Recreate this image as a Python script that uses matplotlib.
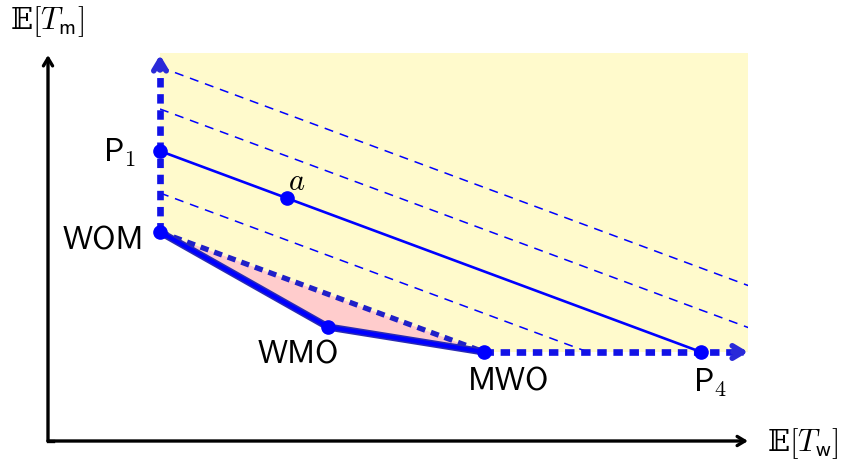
import numpy as np
import matplotlib
matplotlib.use("Agg")
import matplotlib.pyplot as plt
from matplotlib.patches import Polygon

plt.rcParams["mathtext.fontset"] = "cm"
plt.rcParams["lines.scale_dashes"] = False

# ---- data (abstract units: E[T_w] horizontally, E[T_m] vertically) ----
point_names = ["WOM", "WMO", "MWO"]
frontier_x = [1.12, 2.80, 4.36]
frontier_y = [2.09, 1.14, 0.89]

p1 = (1.12, 2.90)
p4 = (6.53, 0.89)
a_pt = (2.39, 2.43)

region_top = 3.88
region_right = 7.00
axis_top = 3.86
axis_right = 7.00

# iso-lines parallel to P1-P4, given by their value at the left edge
iso_levels = [3.74, 3.32, 2.48]

BLUE = "#0000ff"
DASH_BLUE = "#1212e6"
YELLOW = "#fffacc"
PINK = "#ffcccc"

fig = plt.figure(figsize=(8.42, 4.65), dpi=100)
ax = fig.add_axes([0, 0, 1, 1])
ax.set_xlim(-0.48, 7.94)
ax.set_ylim(-0.24, 4.41)
ax.axis("off")

x_wom, x_wmo, x_mwo = frontier_x
y_wom, y_wmo, y_mwo = frontier_y

# feasible region above the dashed hull
region = Polygon([(x_wom, y_wom), (x_wom, region_top), (region_right, region_top),
                  (region_right, y_mwo), (x_mwo, y_mwo)],
                 closed=True, facecolor=YELLOW, edgecolor="none", zorder=1)
ax.add_patch(region)

# pink gap between frontier and its convex hull
gap = Polygon(list(zip(frontier_x, frontier_y)), closed=True,
              facecolor=PINK, edgecolor="none", zorder=2)
ax.add_patch(gap)

# iso-cost lines
slope = (p4[1] - p1[1]) / (p4[0] - p1[0])
xs = np.array([x_wom, region_right + 1])
for lev in iso_levels:
    ln, = ax.plot(xs, lev + slope * (xs - x_wom), color=BLUE, lw=1.1,
                  dashes=(6.5, 5.0), zorder=3)
    ln.set_clip_path(region)

# line through P1 and P4
ax.plot([p1[0], p4[0]], [p1[1], p4[1]], color=BLUE, lw=1.9, zorder=4)

# dashed hull boundary (vertical, diagonal, horizontal)
thick_dash = dict(color=DASH_BLUE, lw=4.8, dashes=(6.8, 4.8),
                  solid_capstyle="butt", zorder=5)
ax.plot([x_wom, x_wom], [y_wom, axis_top - 0.05], **thick_dash)
ax.plot([x_mwo, axis_right - 0.05], [y_mwo, y_mwo], **thick_dash)
ax.plot([x_wom, x_mwo], [y_wom, y_mwo], color="#2020c8", lw=3.8,
        dashes=(6.0, 4.4), zorder=5)

head = dict(arrowstyle="->, head_length=0.75, head_width=0.45",
            color="#2a2ad8", lw=4.0, shrinkA=0, shrinkB=0,
            capstyle="round", joinstyle="round")
ax.annotate("", xy=(x_wom, axis_top), xytext=(x_wom, axis_top - 0.15),
            arrowprops=head, zorder=6)
ax.annotate("", xy=(axis_right, y_mwo), xytext=(axis_right - 0.15, y_mwo),
            arrowprops=head, zorder=6)

# frontier polyline
ax.plot(frontier_x, frontier_y, color="#2a2ab4", lw=5.2, zorder=6,
        solid_joinstyle="round")
ax.plot(frontier_x, frontier_y, color=BLUE, lw=3.0, zorder=6,
        solid_joinstyle="round")

# points
mk = dict(marker="o", ms=9.5, color=BLUE, ls="none", zorder=7)
ax.plot(frontier_x, frontier_y, **mk)
ax.plot([p1[0], a_pt[0], p4[0]], [p1[1], a_pt[1], p4[1]], **mk)

# coordinate axes
axis_arrow = dict(arrowstyle="->, head_length=0.55, head_width=0.33",
                  color="black", lw=2.4, shrinkA=0, shrinkB=0)
ax.annotate("", xy=(0, axis_top), xytext=(0, 0), arrowprops=axis_arrow)
ax.annotate("", xy=(axis_right, 0), xytext=(0, 0), arrowprops=axis_arrow)
ax.plot([0, 0.05], [0, 0], color="black", lw=2.4, solid_capstyle="projecting")

# point labels
lab = dict(fontsize=23, family="cmss10", color="black")
ax.text(0.96, 2.00, "WOM", ha="right", va="center", **lab)
ax.text(2.50, 0.86, "WMO", ha="center", va="center", **lab)
ax.text(4.61, 0.59, "MWO", ha="center", va="center", **lab)
ax.text(0.88, 2.88, r"P$_{1}$", ha="right", va="center", **lab)
ax.text(6.62, 0.58, r"P$_{\mathsf{4}}$", ha="center", va="center", **lab)
ax.text(2.49, 2.60, r"$a$", ha="center", va="center", fontsize=22)


# axis labels: blackboard E followed by the bracketed expectation
def axis_label(x, y, sub):
    ax.text(x, y, "\U0001D53C", ha="right", va="baseline", fontsize=21,
            family=["DejaVu Serif", "DejaVu Sans", "STIXGeneral"])
    ax.text(x - 0.01, y, r"$[T_{\mathsf{" + sub + r"}}]$", ha="left",
            va="baseline", fontsize=22)


axis_label(-0.15, 4.12, "m")
axis_label(7.42, -0.10, "w")

fig.savefig("out.png", dpi=100)
